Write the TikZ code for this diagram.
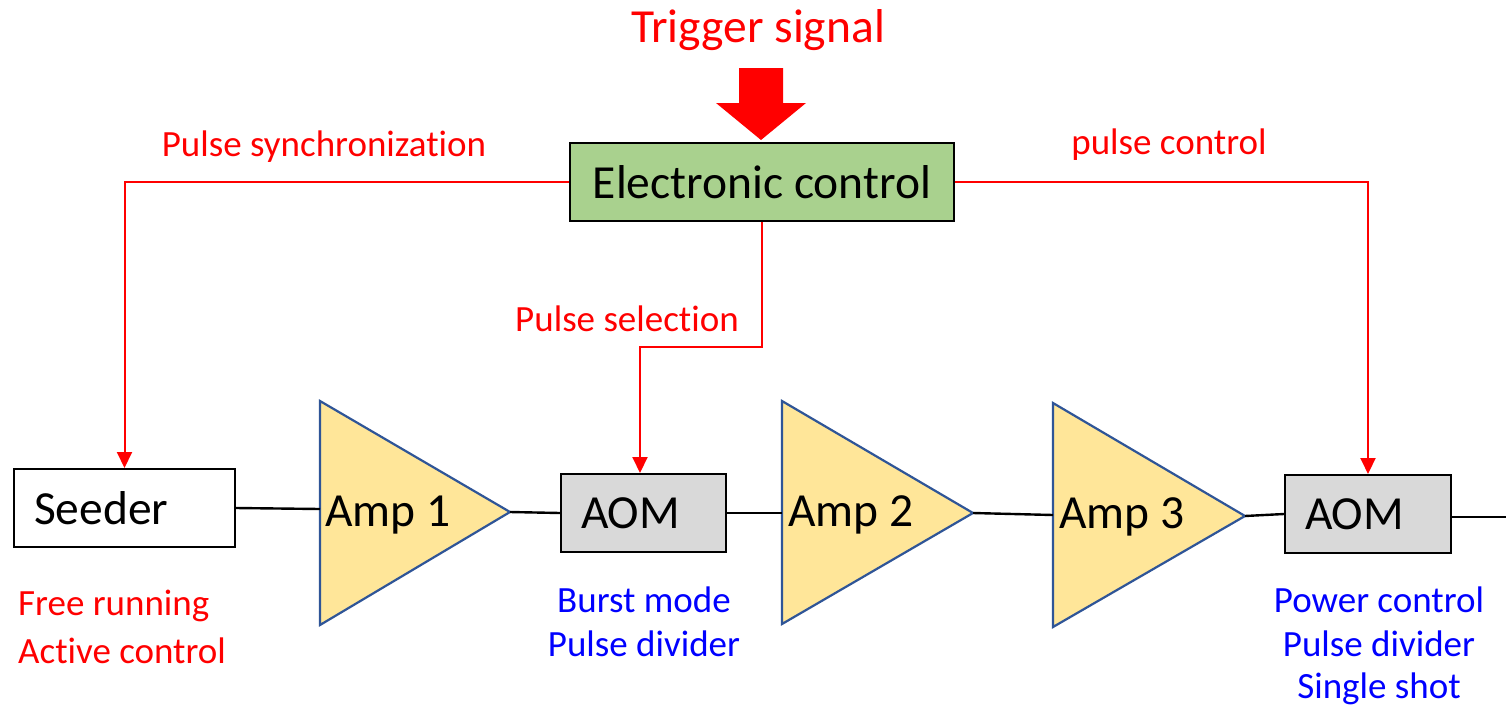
\documentclass[tikz,border=0pt]{standalone}
\usepackage{fontspec}
\setmainfont{Carlito}[Ligatures=NoCommon]
\usetikzlibrary{arrows.meta}
\definecolor{ecgreen}{HTML}{A9D18E}
\definecolor{ampfill}{HTML}{FFE699}
\definecolor{ampedge}{HTML}{2F5597}
\definecolor{aomgray}{HTML}{D9D9D9}
\definecolor{lblred}{HTML}{FF0000}
\definecolor{lblblue}{HTML}{0000FF}
\tikzset{
  bigtext/.style={font=\fontsize{47.5}{57}\selectfont},
  lbltext/.style={font=\fontsize{37}{44}\selectfont, inner sep=0pt},
  blockbox/.style={draw=black, line width=2pt, minimum height=78pt, inner sep=0pt, inner xsep=20pt, align=left, bigtext, anchor=north west},
  ampshape/.style={draw=ampedge, fill=ampfill, line width=2.2pt, line join=miter},
  wire/.style={draw=black, line width=2.4pt},
  ctl/.style={draw=lblred, line width=2pt, -{Triangle[length=16pt,width=15pt]}},
}
\begin{document}
\begin{tikzpicture}[x=1pt,y=-1pt]
\useasboundingbox (0,0) rectangle (1506,707);
% title and trigger arrow
\node[text=lblred, font=\fontsize{47.5}{57}\selectfont, inner sep=0pt] (trig) at (758,30) {Trigger signal};
\fill[lblred] (739,68) -- (783,68) -- (783,103) -- (806,103) -- (761,140) -- (716,103) -- (739,103) -- cycle;
% electronic control
\node[draw=black, fill=ecgreen, line width=2pt, minimum width=384pt, minimum height=78pt, inner sep=0pt, bigtext] (ec) at (762,182) {Electronic control};
% chain boxes
\node[blockbox, fill=white, text width=181pt] (seeder) at (13,468) {Seeder};
\node[blockbox, fill=aomgray, text width=125pt] (aom1) at (560,473) {AOM};
\node[blockbox, fill=aomgray, text width=126pt] (aom2) at (1284,474) {AOM};
% amplifiers
\draw[ampshape] (320,401) -- (510,512) -- (320,625) -- cycle;
\draw[ampshape] (782,401) -- (973,513) -- (782,624) -- cycle;
\draw[ampshape] (1053,403) -- (1245,516) -- (1053,627) -- cycle;
\coordinate (a1in) at (320,509);
\coordinate (a1out) at (510,512);
\coordinate (a2in) at (782,513);
\coordinate (a2out) at (973,513);
\coordinate (a3in) at (1053,515);
\coordinate (a3out) at (1245,516);
\coordinate (outend) at (1506,517);
\node[bigtext, inner sep=0pt, anchor=west] (a1t) at (325,515) {Amp 1};
\node[bigtext, inner sep=0pt, anchor=west] (a2t) at (788,515) {Amp 2};
\node[bigtext, inner sep=0pt, anchor=west] (a3t) at (1059,517) {Amp 3};
% wires
\draw[wire] (seeder.east) -- (a1in);
\draw[wire] (a1out) -- (aom1.west);
\draw[wire] (aom1.east) -- (a2in);
\draw[wire] (a2out) -- (a3in);
\draw[wire] (a3out) -- (aom2.west);
\draw[wire] (aom2.east |- outend) -- (outend);
% control connectors
\coordinate (sel) at (640,347);
\draw[ctl] (ec.west) -| (seeder.north);
\draw[ctl] (ec.east) -| (aom2.north);
\draw[ctl] (ec.south) |- (sel) -- (sel |- aom1.north);
% control labels
\node[lbltext, text=lblred] (lsync) at (324,147) {Pulse synchronization};
\node[lbltext, text=lblred] (lpc) at (1169,145) {pulse control};
\node[lbltext, text=lblred] (lsel) at (627,319) {Pulse selection};
% bottom labels
\node[lbltext, text=lblred, anchor=west] (fr) at (18,606) {Free running};
\node[lbltext, text=lblred, anchor=west] (ac) at (18,651) {Active control};
\node[lbltext, text=lblblue] (bm) at (644,600) {Burst mode};
\node[lbltext, text=lblblue] (pd1) at (644,644) {Pulse divider};
\node[lbltext, text=lblblue] (pwc) at (1379,600) {Power control};
\node[lbltext, text=lblblue] (pd2) at (1379,644) {Pulse divider};
\node[lbltext, text=lblblue] (ss) at (1379,689) {Single shot};
\end{tikzpicture}
\end{document}
